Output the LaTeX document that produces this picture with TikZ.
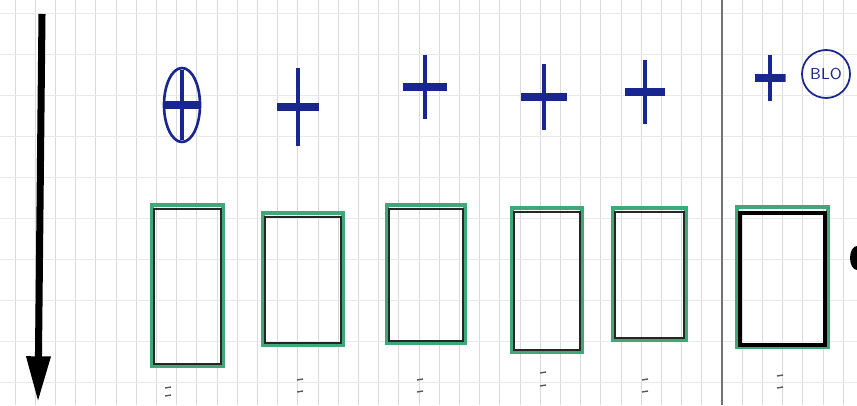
\documentclass[tikz,border=0pt]{standalone}
\usepackage{tikz}
\usetikzlibrary{arrows.meta,positioning,fit}
\usepackage{xcolor}
\definecolor{penblue}{HTML}{1A2690}
\definecolor{markgreen}{HTML}{3FA878}
\definecolor{gridgray}{HTML}{D8DADE}

\begin{document}
\begin{tikzpicture}[
  x=0.02cm, y=-0.02cm,
  gridline/.style={draw=gridgray, line width=0.5pt},
  rowline/.style={draw=gridgray!60, line width=0.5pt},
  frame/.style={draw=markgreen, line width=2pt, inner sep=0pt},
  inner/.style={draw=black!85, line width=1.2pt},
  innerdark/.style={draw=black, line width=2.4pt},
  plusmark/.style 2 args={minimum width=#1, minimum height=#2, inner sep=0pt,
              path picture={
                \draw[penblue, line width=2.8pt]
                  (path picture bounding box.north) -- (path picture bounding box.south);
                \draw[penblue, line width=4pt]
                  (path picture bounding box.west) -- (path picture bounding box.east);}},
  bubble/.style={draw=penblue, line width=1pt, circle, minimum size=0.96cm,
              inner sep=0pt, text=penblue, font=\sffamily\small},
  tick/.style={draw=gray!70!black, line width=0.8pt},
  arrow/.style={-{Triangle[length=26pt, width=13pt]}, line width=4pt, black}
]
\useasboundingbox (0,0) rectangle (857,405);

%% Squared paper
\foreach \i in {0,...,41}
  \draw[gridline] ({15+20.2*\i},0) -- ({15+20.2*\i},405);
\foreach \j in {0,...,9}
  \draw[rowline] (0,{13+41*\j}) -- (857,{13+41*\j});
\draw[draw=black!55, line width=0.8pt] (722,0) -- (722,405);

%% Arrow down the left side
\coordinate (top) at (42,14);
\coordinate (bot) at (38,402);
\draw[arrow] (top) -- (bot);

%% Plus signs over the boxes
\node[plusmark={0.70cm}{1.40cm}] (p1) at (182,105) {};
\draw[penblue, line width=1.5pt] (p1) ellipse [x radius=18, y radius=37];
\node[plusmark={0.84cm}{1.58cm}] (p2) at (298,107) {};
\node[plusmark={0.88cm}{1.30cm}] (p3) at (425,87) {};
\node[plusmark={0.92cm}{1.32cm}] (p4) at (544,97) {};
\node[plusmark={0.80cm}{1.30cm}] (p5) at (645,92) {};
\node[plusmark={0.62cm}{0.94cm}] (p6) at (770,78) {};
\node[bubble] (blo) at (826,74) {BLO};

%% Boxes
\node[frame, fit={(152,205) (223,366)}] (b1) {};
\node[frame, fit={(263,213) (343,345)}] (b2) {};
\node[frame, fit={(387,205) (465,343)}] (b3) {};
\node[frame, fit={(512,208) (582,352)}] (b4) {};
\node[frame, fit={(613,208) (686,340)}] (b5) {};
\node[frame, fit={(737,207) (828,347)}] (b6) {};
\foreach \b in {b1,b2,b3,b4,b5}
  \draw[inner] ([shift={(4,6)}]\b.north west) rectangle ([shift={(-4,-4)}]\b.south east);
\draw[innerdark] ([shift={(5,8)}]b6.north west) rectangle ([shift={(-5,-4)}]b6.south east);

%% Dot at the right edge
\fill[black] (857,258) ellipse [x radius=7, y radius=12];

%% Small marks below the boxes
\foreach \x/\ya/\yb in {168/388/396, 300/380/392, 420/380/392, 543/373/386, 645/380/392, 780/376/388} {
  \draw[tick] (\x-3,\ya) -- (\x+3,\ya-1);
  \draw[tick] (\x-3,\yb) -- (\x+3,\yb-1);
}

\end{tikzpicture}
\end{document}
